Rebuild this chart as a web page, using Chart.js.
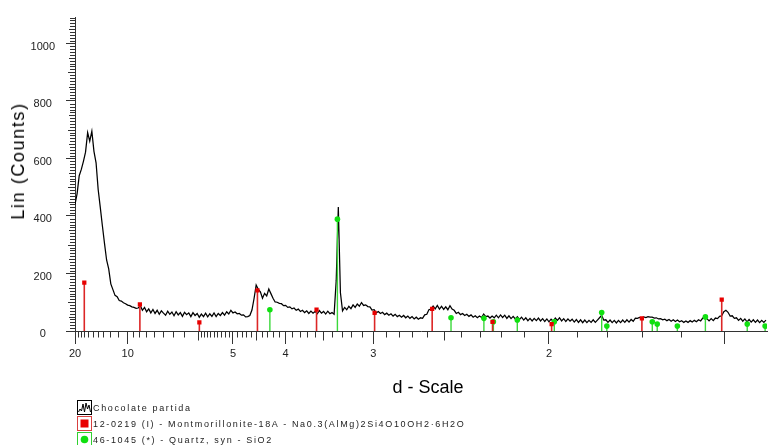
<!DOCTYPE html>
<html>
<head>
<meta charset="utf-8">
<script src="https://cdn.jsdelivr.net/npm/chart.js@4.4.1/dist/chart.umd.min.js"></script>
<style>
  html, body { margin: 0; padding: 0; background: #fff; }
  #wrap { position: relative; width: 771px; height: 445px; overflow: hidden;
          font-family: "Liberation Sans", Arial, sans-serif; }
  #xrd { position: absolute; left: 0; top: 0; }
  .ytitle { position: absolute; left: 18px; top: 161px; font-size: 18px; line-height: 18px;
            white-space: nowrap; letter-spacing: 1.6px; color: #000;
            transform: translate(-50%, -50%) rotate(-90deg); }
  .xtitle { position: absolute; left: 428px; top: 387px; font-size: 18px; line-height: 18px;
            white-space: nowrap; color: #000; transform: translate(-50%, -50%); }
  .row { position: absolute; left: 77px; height: 15px; display: flex; align-items: center;
         font-size: 9px; letter-spacing: 1.65px; color: #222; white-space: nowrap; }
  .row svg { display: block; flex: none; margin-right: 1px; }
</style>
</head>
<body>
<div id="wrap">
  <canvas id="xrd" width="771" height="445"></canvas>
  <div class="ytitle">Lin (Counts)</div>
  <div class="xtitle">d - Scale</div>
  <div class="row" style="top:400px">
    <svg width="15" height="15"><rect x="0.5" y="0.5" width="14" height="14" fill="none" stroke="#000"/>
      <polyline points="1.5,12 3,9 4.5,11 6,4 7.5,12 9,3 10.5,9 12,5 13.5,12" fill="none" stroke="#000" stroke-width="1"/></svg>
    <span>Chocolate partida</span>
  </div>
  <div class="row" style="top:416px">
    <svg width="15" height="15"><rect x="0.5" y="0.5" width="14" height="14" fill="none" stroke="#d84040"/>
      <rect x="3.5" y="3.5" width="8" height="8" fill="#e80000"/></svg>
    <span>12-0219 (I) - Montmorillonite-18A - Na0.3(AlMg)2Si4O10OH2·6H2O</span>
  </div>
  <div class="row" style="top:432px">
    <svg width="15" height="15"><rect x="0.5" y="0.5" width="14" height="14" fill="none" stroke="#30d030"/>
      <circle cx="7.5" cy="7.5" r="3.8" fill="#10e010"/></svg>
    <span>46-1045 (*) - Quartz, syn - SiO2</span>
  </div>
</div>
<script>
// Scan of "Chocolate partida": counts on a uniform grid in 1/d (Å⁻¹)
const invDStart = 0.05;
const invDStep = 0.002;
const counts = [
  440, 478, 540, 562, 590, 622, 690, 660, 695, 625,
  585, 492, 430, 366, 305, 247, 216, 164, 144, 124,
  119, 106, 104, 98, 95, 90, 88, 84, 82, 79,
  80, 88, 72, 82, 67, 77, 63, 75, 61, 72,
  58, 70, 62, 55, 69, 58, 66, 53, 67, 56,
  64, 51, 65, 57, 63, 50, 64, 54, 61, 48,
  59, 50, 62, 49, 60, 51, 63, 50, 61, 54,
  64, 55, 67, 59, 72, 63, 66, 60, 61, 55,
  56, 49, 50, 54, 73, 113, 160, 145, 136, 114,
  131, 122, 146, 130, 114, 101, 100, 96, 95, 88,
  89, 82, 84, 77, 80, 72, 76, 68, 72, 64,
  70, 61, 69, 62, 68, 60, 71, 62, 68, 59,
  69, 60, 64, 58, 176, 431, 133, 70, 82, 74,
  86, 78, 91, 82, 94, 86, 99, 89, 91, 85,
  84, 73, 74, 63, 68, 61, 65, 57, 62, 55,
  60, 52, 58, 50, 55, 48, 54, 46, 52, 44,
  50, 42, 48, 41, 46, 44, 56, 58, 74, 76,
  87, 77, 89, 76, 86, 75, 84, 74, 88, 76,
  72, 61, 65, 57, 61, 54, 58, 51, 56, 48,
  53, 46, 52, 47, 59, 50, 52, 45, 52, 46,
  55, 46, 56, 47, 55, 44, 53, 43, 51, 42,
  50, 40, 48, 38, 46, 36, 44, 35, 44, 36,
  45, 35, 43, 33, 42, 32, 41, 34, 45, 37,
  46, 35, 43, 33, 42, 34, 41, 31, 40, 30,
  39, 29, 38, 29, 37, 30, 39, 30, 38, 46,
  54, 38, 39, 30, 38, 29, 37, 28, 37, 29,
  38, 30, 39, 31, 40, 34, 45, 44, 47, 46,
  49, 47, 50, 48, 48, 45, 46, 42, 43, 39,
  41, 36, 40, 34, 39, 33, 38, 32, 36, 30,
  35, 30, 36, 31, 37, 32, 39, 35, 45, 48,
  43, 35, 43, 36, 45, 43, 51, 53, 67, 72,
  65, 52, 53, 44, 46, 37, 44, 34, 42, 32,
  40, 31, 39, 30, 38, 29, 37, 30, 38
];

// Reference pattern 12-0219 Montmorillonite-18A: d (Å) and drawn stick height (counts)
const montD = [17.0, 8.96, 5.95, 4.48, 3.58, 2.99, 2.57, 2.24, 1.99, 1.70, 1.506];
const montI = [168, 93, 30, 141, 74, 63, 77, 32, 24, 44, 109];

// Reference pattern 46-1045 Quartz, syn: d (Å) and drawn stick height (counts)
const quartzD = [4.255, 3.343, 2.457, 2.282, 2.236, 2.128, 1.980, 1.818, 1.802, 1.672, 1.659, 1.608, 1.542, 1.453, 1.418];
const quartzI = [74, 389, 46, 44, 32, 38, 32, 64, 17, 32, 24, 17, 49, 24, 17];

// d-scale axis ticks
const dMajor = [20, 10, 5, 4, 3, 2, 1.5];
const dMajorText = ['20', '10', '5', '4', '3', '2', ''];
const dMedium = [6, 4.5, 3.5, 2.5];
const dMinor = [19, 18, 17, 16, 15, 14, 13, 12, 11,
  9.5, 9, 8.5, 8, 7.5, 7, 6.5,
  5.9, 5.8, 5.7, 5.6, 5.5, 5.4, 5.3, 5.2, 5.1,
  4.9, 4.8, 4.7, 4.6, 4.4, 4.3, 4.2, 4.1,
  3.9, 3.8, 3.7, 3.6, 3.4, 3.3, 3.2, 3.1,
  2.9, 2.8, 2.7, 2.6, 2.4, 2.3, 2.2, 2.1,
  1.9, 1.8, 1.7, 1.6];
const countLabels = [0, 200, 400, 600, 800, 1000];
const countMax = 1090;

const trace = counts.map((c, i) => ({ x: invDStart + i * invDStep, y: c }));

function sticks(ds, hs) {
  const pts = [];
  ds.forEach((d, i) => {
    pts.push({ x: 1 / d, y: 0 }, { x: 1 / d, y: hs[i] }, { x: 1 / d, y: null });
  });
  return pts;
}
function tops(ds, hs) {
  return ds.map((d, i) => ({ x: 1 / d, y: hs[i] }));
}

const AXIS = '#333';

// minor ticks on both axes, placed through the chart's own scales
const minorTicks = {
  id: 'minorTicks',
  afterDraw(chart) {
    const { ctx, scales: { x, y } } = chart;
    ctx.save();
    ctx.strokeStyle = AXIS;
    ctx.lineWidth = 1;
    ctx.beginPath();
    const yb = Math.round(y.bottom) + 0.5;
    const vtick = (d, len) => {
      const px = Math.round(x.getPixelForValue(1 / d)) + 0.5;
      ctx.moveTo(px, yb);
      ctx.lineTo(px, yb + len);
    };
    dMinor.forEach(d => vtick(d, 6));
    dMedium.forEach(d => vtick(d, 9));
    const xl = Math.round(x.left);
    for (let c = 10; c <= countMax; c += 10) {
      if (countLabels.includes(c)) continue;
      const len = c % 100 === 0 ? 7 : (c % 50 === 0 ? 6 : 5);
      const py = Math.round(y.getPixelForValue(c)) + 0.5;
      ctx.moveTo(xl - len, py);
      ctx.lineTo(xl, py);
    }
    ctx.stroke();
    ctx.restore();
  }
};

Chart.defaults.font.family = '"Liberation Sans", Arial, sans-serif';

new Chart(document.getElementById('xrd'), {
  type: 'scatter',
  data: {
    datasets: [
      { label: 'Montmorillonite-18A', data: sticks(montD, montI), showLine: true, spanGaps: false,
        borderColor: '#dc2626', borderWidth: 1.6, pointRadius: 0, order: 2 },
      { label: 'Quartz', data: sticks(quartzD, quartzI), showLine: true, spanGaps: false,
        borderColor: '#3ad83a', borderWidth: 1.4, pointRadius: 0, order: 2 },
      { label: 'Montmorillonite-18A tops', data: tops(montD, montI), pointStyle: 'rect',
        pointRadius: 3, backgroundColor: '#e80000', borderColor: '#e80000', borderWidth: 0, order: 1 },
      { label: 'Quartz tops', data: tops(quartzD, quartzI), pointStyle: 'circle',
        pointRadius: 2.8, backgroundColor: '#10e010', borderColor: '#10e010', borderWidth: 0, order: 1 },
      { label: 'Chocolate partida', data: trace, showLine: true, borderColor: '#000',
        borderWidth: 1.25, pointRadius: 0, tension: 0, order: 5 }
    ]
  },
  options: {
    responsive: false,
    animation: false,
    events: [],
    layout: { padding: { top: 13, left: 0, right: 0, bottom: 0 } },
    plugins: { legend: { display: false }, tooltip: { enabled: false } },
    scales: {
      x: {
        type: 'linear', min: 0.05, max: 0.707,
        afterBuildTicks: s => { s.ticks = dMajor.map(d => ({ value: 1 / d })); },
        afterFit: s => { s.height = 114; },
        ticks: { autoSkip: false, maxRotation: 0, padding: 3, color: '#222',
                 font: { size: 11 }, callback: (v, i) => dMajorText[i] },
        grid: { drawOnChartArea: false, tickLength: 13, tickColor: AXIS },
        border: { color: AXIS }
      },
      y: {
        type: 'linear', min: 0, max: countMax,
        afterBuildTicks: s => { s.ticks = countLabels.map(v => ({ value: v })); },
        afterFit: s => { s.width = 75; },
        ticks: { crossAlign: 'center', padding: 11, labelOffset: 3, color: '#222',
                 font: { size: 11 }, callback: v => String(v) },
        grid: { drawOnChartArea: false, tickLength: 9, tickColor: AXIS },
        border: { color: AXIS }
      }
    }
  },
  plugins: [minorTicks]
});
</script>
</body>
</html>
